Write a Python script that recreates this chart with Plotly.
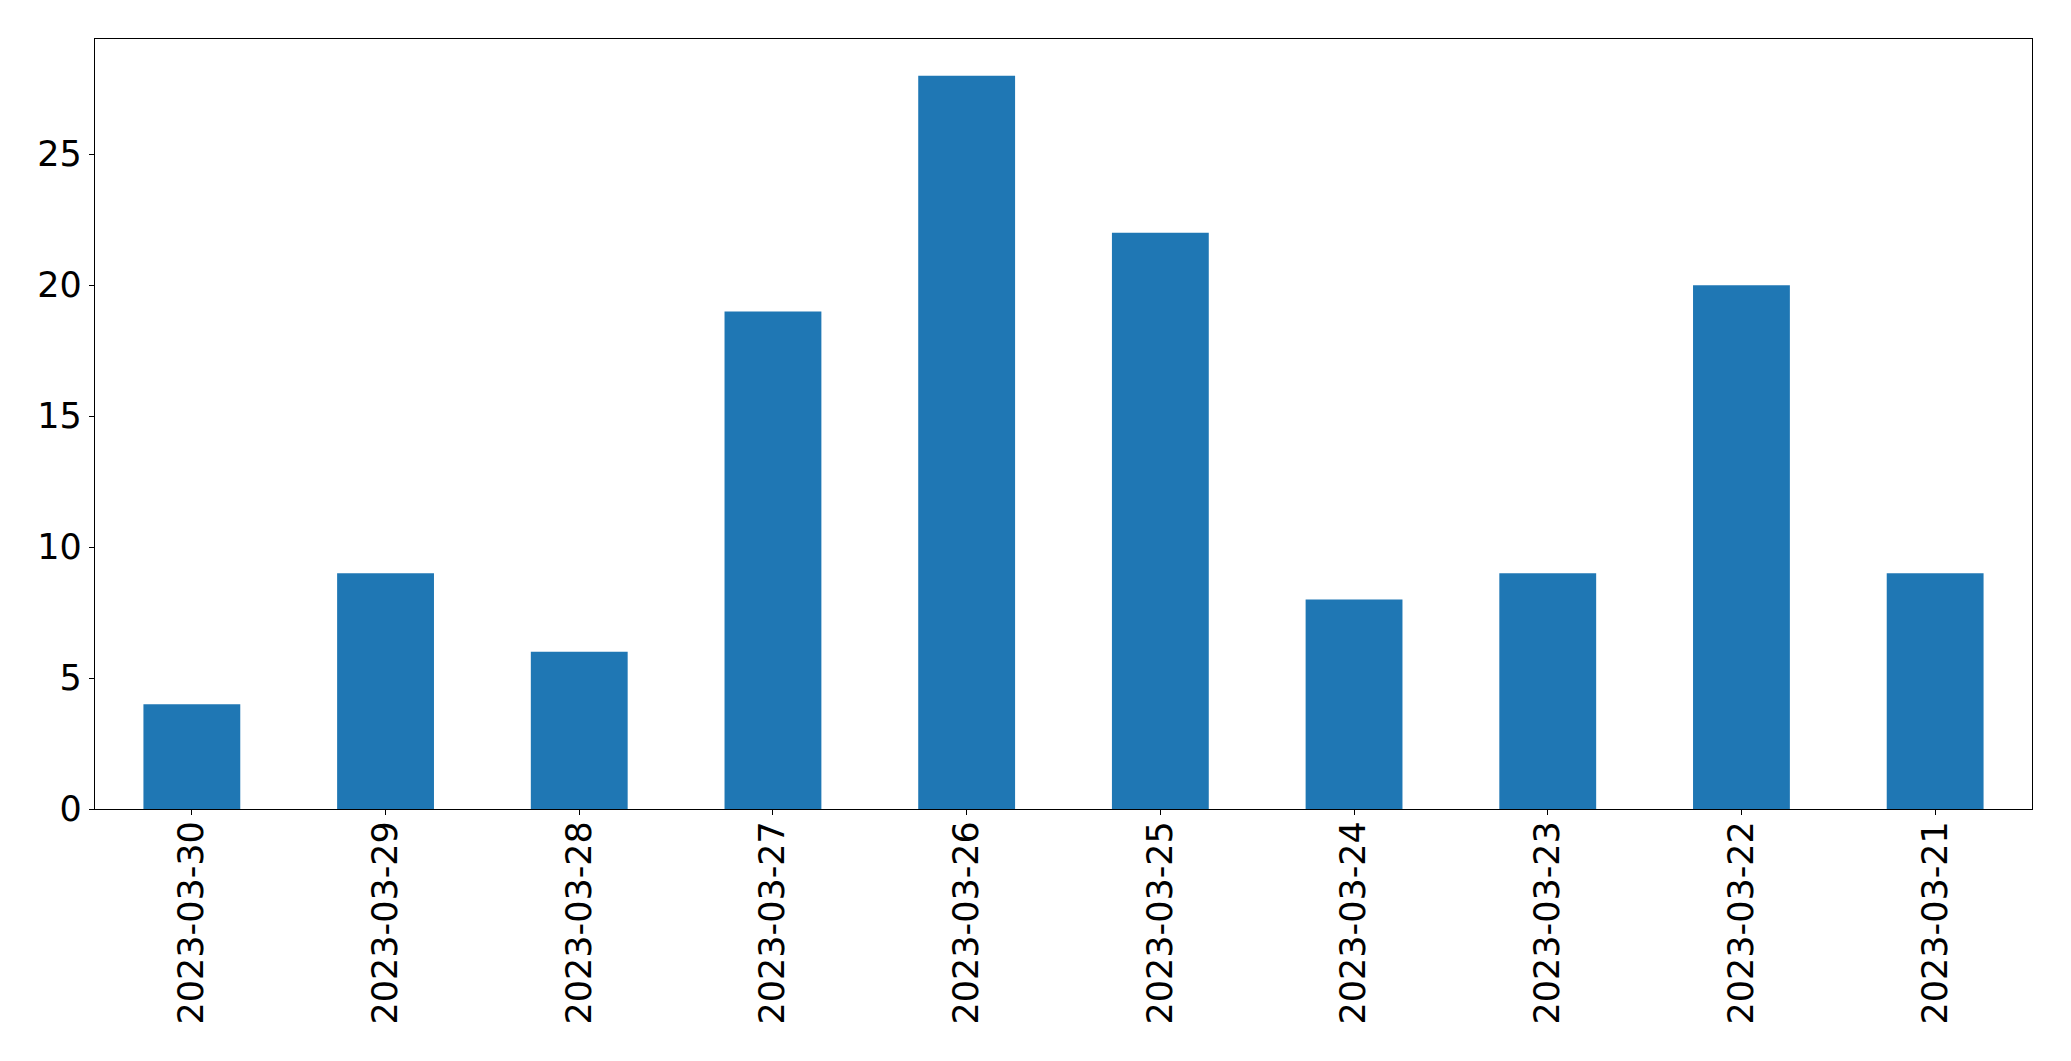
import plotly.graph_objects as go

dates = ["2023-03-30", "2023-03-29", "2023-03-28", "2023-03-27", "2023-03-26",
         "2023-03-25", "2023-03-24", "2023-03-23", "2023-03-22", "2023-03-21"]
counts = [4, 9, 6, 19, 28, 22, 8, 9, 20, 9]
y_ticks = [0, 5, 10, 15, 20, 25]

fig = go.Figure(go.Bar(x=dates, y=counts, marker_color="#1f77b4", marker_line_width=0))

fig.update_layout(
    width=2063, height=1053,
    margin=dict(l=87, r=39, t=31, b=252, autoexpand=False),
    paper_bgcolor="white", plot_bgcolor="white",
    bargap=0.5, showlegend=False,
    font=dict(family="DejaVu Sans", size=35, color="black"),
)
fig.update_xaxes(
    type="category", range=[-0.5, 9.5], tickangle=-90,
    showline=True, linecolor="black", linewidth=1.3, mirror=True,
    ticks="outside", ticklen=5, tickcolor="black", tickwidth=1.3,
    showgrid=False, tickfont=dict(size=35), ticklabelstandoff=-8,
)
fig.update_yaxes(
    range=[0, 29.4], tickvals=y_ticks,
    showline=True, linecolor="black", linewidth=1.3, mirror=True,
    ticks="outside", ticklen=5, tickcolor="black", tickwidth=1.3,
    showgrid=False, zeroline=False, tickfont=dict(size=35),
)
fig.write_html("out.html")
